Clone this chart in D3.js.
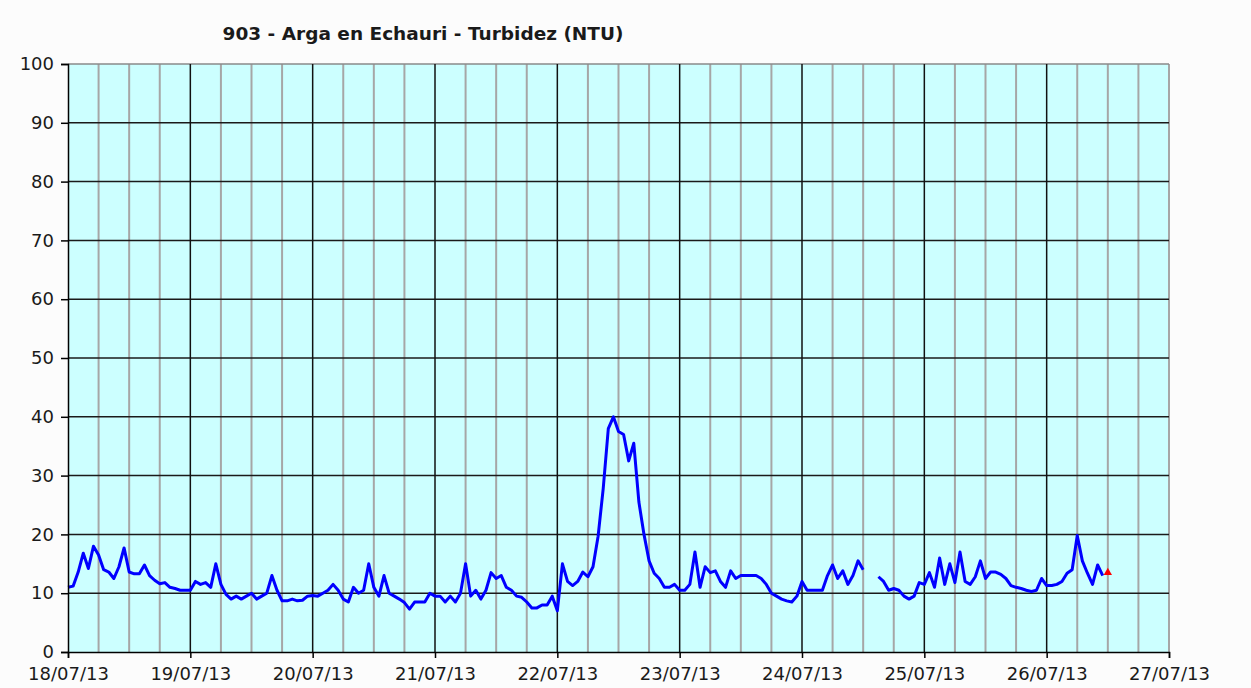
<!DOCTYPE html>
<html>
<head>
<meta charset="utf-8">
<script src="https://cdn.jsdelivr.net/npm/d3@7"></script>
<style>
    html, body { margin: 0; padding: 0; background: #fcfcfc; }
    text { font-family: "DejaVu Sans", Verdana, sans-serif; fill: #1a1a1a; }
</style>
</head>
<body>
<div id="chart"></div>
<script>
// turbidity readings, hourly from 00:00 of each day (NTU)
const dayLabels = ["18/07/13", "19/07/13", "20/07/13", "21/07/13", "22/07/13", "23/07/13", "24/07/13", "25/07/13", "26/07/13", "27/07/13"];
const yTicks = [0, 10, 20, 30, 40, 50, 60, 70, 80, 90, 100];

const day18 = [11, 11.2, 13.6, 16.8, 14.2, 18, 16.5, 14, 13.6, 12.5, 14.5, 17.7, 13.6, 13.3, 13.3, 14.8, 13, 12.2, 11.6, 11.8, 11, 10.8, 10.5, 10.5];
const day19 = [10.5, 12, 11.5, 11.8, 11, 15, 11.5, 9.8, 9, 9.5, 9, 9.5, 10, 9, 9.5, 10, 13, 10.5, 8.7, 8.7, 9, 8.7, 8.8, 9.5];
const day20 = [9.6, 9.5, 10, 10.5, 11.5, 10.5, 9, 8.5, 11, 10, 10.5, 15, 11, 9.5, 13, 10, 9.5, 9, 8.4, 7.3, 8.5, 8.5, 8.5, 10];
const day21 = [9.5, 9.5, 8.5, 9.5, 8.5, 10, 15, 9.5, 10.5, 9, 10.5, 13.5, 12.5, 13, 11, 10.5, 9.5, 9.3, 8.5, 7.5, 7.5, 8, 8, 9.5];
const day22 = [7, 15, 12, 11.3, 12, 13.6, 12.8, 14.5, 19.7, 27.8, 38, 40, 37.5, 37, 32.5, 35.5, 25.5, 20, 15.5, 13.4, 12.5, 11, 11, 11.5];
const day23 = [10.5, 10.5, 11.5, 17, 11, 14.5, 13.5, 13.8, 12, 11, 13.8, 12.5, 13, 13, 13, 13, 12.5, 11.5, 10, 9.5, 9, 8.7, 8.5, 9.5];
const day24 = [12, 10.5, 10.5, 10.5, 10.5, 13, 14.8, 12.5, 13.8, 11.5, 13, 15.5, 14, null, null, 12.8, 12, 10.5, 10.8, 10.5, 9.5, 9, 9.5, 11.8];
const day25 = [11.5, 13.5, 11, 16, 11.5, 15, 11.8, 17, 12, 11.5, 12.8, 15.5, 12.5, 13.6, 13.6, 13.2, 12.5, 11.3, 11, 10.8, 10.5, 10.3, 10.5, 12.5];
const day26 = [11.3, 11.3, 11.5, 12, 13.4, 14, 19.8, 15.5, 13.4, 11.5, 14.8, 13];
const lastValue = 13.5; // red marker, 26/07 12:00

const width = 1251, height = 688;
const margin = { top: 64, right: 82, bottom: 36, left: 68 };

const days = [day18, day19, day20, day21, day22, day23, day24, day25, day26];
const series = [];
days.forEach((vals, d) => {
    vals.forEach((v, h) => {
        series.push({ t: new Date(2013, 6, 18 + d, h), v: v });
    });
});
const lastPoint = { t: new Date(2013, 6, 26, 12), v: lastValue };

const x = d3.scaleTime()
    .domain([new Date(2013, 6, 18), new Date(2013, 6, 27)])
    .range([margin.left, width - margin.right]);

const y = d3.scaleLinear()
    .domain([0, 100])
    .range([height - margin.bottom, margin.top]);

const svg = d3.select("#chart")
    .append("svg")
    .attr("width", width)
    .attr("height", height);

svg.append("text")
    .attr("x", 423)
    .attr("y", 40)
    .attr("text-anchor", "middle")
    .style("font-size", "18.5px")
    .style("font-weight", "bold")
    .text("903 - Arga en Echauri - Turbidez (NTU)");

svg.append("rect")
    .attr("x", margin.left)
    .attr("y", margin.top)
    .attr("width", width - margin.left - margin.right)
    .attr("height", height - margin.top - margin.bottom)
    .attr("fill", "#ccffff");

// 6-hour grid lines
const minor = d3.timeHour.every(6).range(x.domain()[0], x.domain()[1])
    .filter(d => d.getHours() !== 0);
svg.append("g")
    .selectAll("line")
    .data(minor)
    .join("line")
    .attr("x1", d => x(d)).attr("x2", d => x(d))
    .attr("y1", margin.top).attr("y2", height - margin.bottom)
    .attr("stroke", "#a6a6a6")
    .attr("stroke-width", 2);

// right border
svg.append("line")
    .attr("x1", x.range()[1]).attr("x2", x.range()[1])
    .attr("y1", margin.top).attr("y2", height - margin.bottom)
    .attr("stroke", "#a6a6a6")
    .attr("stroke-width", 2);

// horizontal grid
svg.append("g")
    .selectAll("line")
    .data(yTicks.slice(1, -1))
    .join("line")
    .attr("x1", margin.left).attr("x2", width - margin.right)
    .attr("y1", d => y(d)).attr("y2", d => y(d))
    .attr("stroke", "#1a1a1a")
    .attr("stroke-width", 1.5);

// top border
svg.append("line")
    .attr("x1", margin.left).attr("x2", width - margin.right)
    .attr("y1", y(100)).attr("y2", y(100))
    .attr("stroke", "#8a8a8a")
    .attr("stroke-width", 1.5);

// day grid lines
const dayTicks = d3.timeDay.range(x.domain()[0], x.domain()[1]).slice(1);
svg.append("g")
    .selectAll("line")
    .data(dayTicks)
    .join("line")
    .attr("x1", d => x(d)).attr("x2", d => x(d))
    .attr("y1", margin.top).attr("y2", height - margin.bottom)
    .attr("stroke", "#111")
    .attr("stroke-width", 1.5);

const line = d3.line()
    .defined(d => d.v !== null)
    .x(d => x(d.t))
    .y(d => y(d.v));

svg.append("path")
    .datum(series)
    .attr("fill", "none")
    .attr("stroke", "#0000ff")
    .attr("stroke-width", 3)
    .attr("stroke-linejoin", "round")
    .attr("d", line);

svg.append("path")
    .attr("d", d3.symbol(d3.symbolTriangle, 30)())
    .attr("transform", `translate(${x(lastPoint.t)},${y(lastPoint.v)})`)
    .attr("fill", "#ff0000");

// axes
const xAxis = d3.axisBottom(x)
    .tickValues(d3.timeDay.range(x.domain()[0], d3.timeDay.offset(x.domain()[1], 1)))
    .tickFormat((d, i) => dayLabels[i])
    .tickSize(6)
    .tickPadding(9);

svg.append("g")
    .attr("transform", `translate(0,${height - margin.bottom})`)
    .call(xAxis)
    .call(g => g.select(".domain").attr("stroke", "#000").attr("stroke-width", 1.5))
    .call(g => g.selectAll(".tick line").attr("stroke", "#000").attr("stroke-width", 1.5))
    .call(g => g.selectAll("text").style("font-size", "18px").attr("fill", "#1a1a1a"));

const yAxis = d3.axisLeft(y)
    .tickValues(yTicks)
    .tickSize(7)
    .tickPadding(7);

svg.append("g")
    .attr("transform", `translate(${margin.left},0)`)
    .call(yAxis)
    .call(g => g.select(".domain").attr("stroke", "#000").attr("stroke-width", 1.5))
    .call(g => g.selectAll(".tick line").attr("stroke", "#000").attr("stroke-width", 1.5))
    .call(g => g.selectAll("text").style("font-size", "18px").attr("fill", "#1a1a1a"));
</script>
</body>
</html>
